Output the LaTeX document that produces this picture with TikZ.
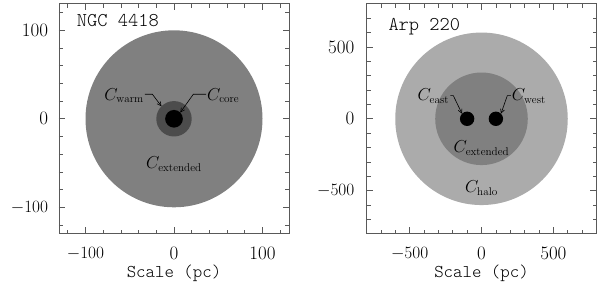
\documentclass[tikz,border=0pt]{standalone}
\usepackage{fontspec}
\newfontfamily\lightmono{Latin Modern Mono Light}
\usetikzlibrary{arrows.meta,calc}
\definecolor{extgray}{gray}{0.50}
\definecolor{warmgray}{gray}{0.30}
\definecolor{halogray}{gray}{0.67}
\definecolor{framegray}{gray}{0.35}
\tikzset{
  frameline/.style={draw=framegray,line width=0.8pt},
  tickline/.style={draw=framegray,line width=0.7pt},
  ticklab/.style={font=\fontsize{19}{22}\selectfont,inner sep=0pt},
  comp/.style={font=\fontsize{16}{19}\selectfont,inner sep=0pt},
  arr/.style={line width=0.6pt,-{Straight Barb[length=4pt,width=4pt]}},
  titlelab/.style={font=\fontsize{19.5}{22}\lightmono,inner sep=0pt},
  scalelab/.style={font=\fontsize{18}{21}\lightmono,inner sep=0pt}
}
\begin{document}
\begin{tikzpicture}[x=1pt,y=1pt]
\useasboundingbox (0,0) rectangle (600,284);
% ---------------- Left panel: NGC 4418
\begin{scope}[shift={(174,165.2)},x=0.885pt,y=0.885pt]
  \fill[extgray] (0,0) circle (100);
  \fill[warmgray] (0,0) circle (20);
  \fill[black] (0,0) circle (10);
  \foreach \t in {-120,-100,...,120}{
    \draw[tickline] (\t,-130) -- ++(0,4pt);
    \draw[tickline] (\t,130) -- ++(0,-4pt);
    \draw[tickline] (-130,\t) -- ++(4pt,0);
    \draw[tickline] (130,\t) -- ++(-4pt,0);
  }
  \foreach \t in {-100,0,100}{
    \draw[tickline] (\t,-130) -- ++(0,6.5pt);
    \draw[tickline] (\t,130) -- ++(0,-6.5pt);
    \draw[tickline] (-130,\t) -- ++(6.5pt,0);
    \draw[tickline] (130,\t) -- ++(-6.5pt,0);
  }
  \draw[frameline] (-130,-130) rectangle (130,130);
  \node[ticklab,anchor=east] (ly1) at ([xshift=-10.7pt]-130,100) {100};
  \node[ticklab,anchor=east] (ly2) at ([xshift=-10.7pt]-130,0) {0};
  \node[ticklab,anchor=east] (ly3) at ([xshift=-10.7pt]-130,-100) {$-100$};
  \node[ticklab] (lx1) at ([yshift=-19.7pt]-100,-130) {$-100$};
  \node[ticklab] (lx2) at ([yshift=-19.7pt]0,-130) {0};
  \node[ticklab] (lx3) at ([yshift=-19.7pt]100,-130) {100};
  \node[comp] (lwarm) at (-56.5,26.1) {$C_{\rm warm}$};
  \node[comp] (lcore) at (55.7,26.1) {$C_{\rm core}$};
  \node[comp] (lext) at (0,-51) {$C_{\rm extended}$};
  \coordinate (wbend) at (-24.4,27.7);
  \coordinate (wtip) at (135:20);
  \coordinate (cbend) at (21.8,27.7);
  \coordinate (ctip) at (45:10);
  \draw[arr] ([xshift=1pt]lwarm.east |- wbend) -- (wbend) -- (wtip);
  \draw[arr] ([xshift=-1pt]lcore.west |- cbend) -- (cbend) -- (ctip);
\end{scope}
\node[titlelab,anchor=base west] (ltitle) at (76.7,257) {NGC 4418};
\node[scalelab,anchor=base] (lscale) at (174,6) {Scale (pc)};
% ---------------- Right panel: Arp 220
\begin{scope}[shift={(481.5,165.2)},x=0.14375pt,y=0.14375pt]
  \fill[halogray] (0,0) circle (600);
  \fill[extgray] (0,0) circle (322);
  \fill[black] (-100,0) circle (50);
  \fill[black] (100,0) circle (50);
  \foreach \t in {-700,-600,...,700}{
    \draw[tickline] (\t,-800) -- ++(0,4pt);
    \draw[tickline] (\t,800) -- ++(0,-4pt);
    \draw[tickline] (-800,\t) -- ++(4pt,0);
    \draw[tickline] (800,\t) -- ++(-4pt,0);
  }
  \foreach \t in {-500,0,500}{
    \draw[tickline] (\t,-800) -- ++(0,6.5pt);
    \draw[tickline] (\t,800) -- ++(0,-6.5pt);
    \draw[tickline] (-800,\t) -- ++(6.5pt,0);
    \draw[tickline] (800,\t) -- ++(-6.5pt,0);
  }
  \draw[frameline] (-800,-800) rectangle (800,800);
  \node[ticklab,anchor=east] (ry1) at ([xshift=-12pt]-800,500) {500};
  \node[ticklab,anchor=east] (ry2) at ([xshift=-12pt]-800,0) {0};
  \node[ticklab,anchor=east] (ry3) at ([xshift=-12pt]-800,-500) {$-500$};
  \node[ticklab] (rx1) at ([yshift=-19.7pt]-500,-800) {$-500$};
  \node[ticklab] (rx2) at ([yshift=-19.7pt]0,-800) {0};
  \node[ticklab] (rx3) at ([yshift=-19.7pt]500,-800) {500};
  \node[comp] (reast) at (-335,159) {$C_{\rm east}$};
  \node[comp] (rwest) at (330,159) {$C_{\rm west}$};
  \node[comp] (rext) at (0,-203) {$C_{\rm extended}$};
  \node[comp] (rhalo) at (0,-481) {$C_{\rm halo}$};
  \coordinate (ebend) at (-196,161);
  \coordinate (etip) at ($(-100,0)+(135:50)$);
  \coordinate (wsbend) at (179.5,161);
  \coordinate (wstip) at ($(100,0)+(45:50)$);
  \draw[arr] ([xshift=1pt]reast.east |- ebend) -- (ebend) -- (etip);
  \draw[arr] ([xshift=-1pt]rwest.west |- wsbend) -- (wsbend) -- (wstip);
\end{scope}
\node[titlelab,anchor=base west] (rtitle) at (388.3,253.3) {Arp 220};
\node[scalelab,anchor=base] (rscale) at (481.5,6) {Scale (pc)};
\end{tikzpicture}
\end{document}
